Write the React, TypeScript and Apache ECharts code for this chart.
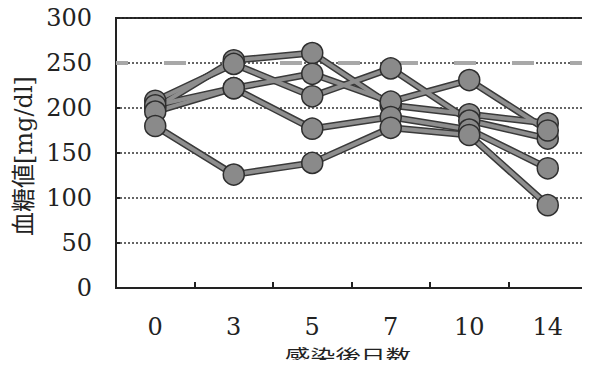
import React, { useEffect, useRef } from "react";
import * as echarts from "echarts";

const days = ["0", "3", "5", "7", "10", "14"];
const yTicks = [0, 50, 100, 150, 200, 250, 300];
const rat1 = [200, 253, 261, 203, 193, 183];
const rat2 = [208, 249, 213, 244, 186, 166];
const rat3 = [203, 222, 238, 207, 231, 175];
const rat4 = [196, 222, 177, 190, 176, 133];
const rat5 = [180, 126, 139, 178, 170, 92];
const referenceLevel = 250;

const allSeries = [rat1, rat2, rat3, rat4, rat5];

export default function App() {
  const ref = useRef<HTMLDivElement>(null);
  useEffect(() => {
    if (!ref.current) return;
    const chart = echarts.init(ref.current, undefined, { renderer: "svg" });
    const outline = allSeries.map((d) => ({
      type: "line",
      data: d,
      z: 3,
      showSymbol: false,
      symbol: "none",
      lineStyle: { color: "#3a3a3a", width: 7 },
      silent: true,
    }));
    const fill = allSeries.map((d) => ({
      type: "line",
      data: d,
      z: 4,
      symbol: "none",
      lineStyle: { color: "#8e8e8e", width: 4 },
      silent: true,
    }));
    const marks = allSeries.map((d) => ({
      type: "scatter",
      data: d,
      z: 5,
      symbol: "circle",
      symbolSize: 21,
      itemStyle: { color: "#8a8a8a", borderColor: "#2e2e2e", borderWidth: 1.5, opacity: 1 },
      silent: true,
    }));
    chart.setOption({
      animation: false,
      grid: {
        left: 116,
        right: 3,
        top: 18,
        bottom: 80,
        show: true,
        borderColor: "#222",
        borderWidth: 2,
      },
      xAxis: {
        type: "category",
        data: days,
        boundaryGap: true,
        axisLine: { show: true, lineStyle: { color: "#222", width: 2 } },
        axisTick: { show: true, inside: true, length: 6, lineStyle: { color: "#222", width: 2 } },
        axisLabel: {
          color: "#222",
          fontFamily: "DejaVu Serif",
          fontSize: 24,
          margin: 27,
        },
        splitLine: { show: false },
      },
      yAxis: {
        type: "value",
        min: 0,
        max: 300,
        interval: 50,
        axisLine: { show: true, lineStyle: { color: "#222", width: 2 } },
        axisTick: { show: true, inside: true, length: 4, lineStyle: { color: "#222", width: 2 } },
        axisLabel: {
          color: "#222",
          fontFamily: "DejaVu Serif",
          fontSize: 24,
          margin: 24,
          formatter: (v: number) => (yTicks.includes(v) ? String(v) : ""),
        },
        splitLine: {
          show: true,
          lineStyle: { color: "#333", width: 1.5, type: [2, 2] },
        },
      },
      series: [
        {
          type: "line",
          data: [],
          z: 2,
          markLine: {
            silent: true,
            symbol: "none",
            label: { show: false },
            lineStyle: { color: "#a8a8a8", width: 4, type: [22, 36], dashOffset: 10 },
            data: [{ yAxis: referenceLevel }],
          },
        },
        ...outline,
        ...fill,
        ...marks,
      ],
      graphic: [
        {
          type: "text",
          x: 348,
          y: 346,
          scaleX: 1.4,
          style: {
            text: "感染後日数",
            fontFamily: "Noto Sans CJK JP",
            fontSize: 18,
            fill: "#222",
            align: "center",
            verticalAlign: "top",
          },
        },
        {
          type: "text",
          x: 12,
          y: 236,
          rotation: Math.PI / 2,
          style: {
            text: "血糖値[mg/dl]",
            fontFamily: "DejaVu Serif, Noto Sans CJK JP",
            fontSize: 24,
            fill: "#222",
            align: "left",
            verticalAlign: "top",
          },
        },
      ],
    });
    return () => chart.dispose();
  }, []);
  return <div ref={ref} style={{ width: 590, height: 368, margin: -8, background: "#fff" }} />;
}
